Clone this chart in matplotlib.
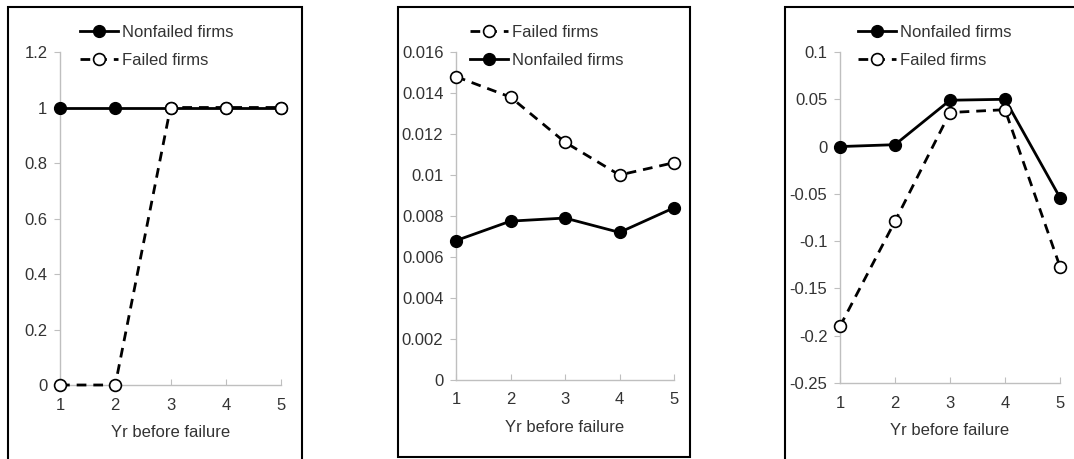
import matplotlib.pyplot as plt
from matplotlib.patches import Rectangle

plt.rcParams["font.family"] = ["Liberation Sans", "DejaVu Sans"]

years = [1, 2, 3, 4, 5]

# panel 1
p1_nonfailed = [1, 1, 1, 1, 1]
p1_failed = [0, 0, 1, 1, 1]
p1_yticks = [0, 0.2, 0.4, 0.6, 0.8, 1, 1.2]
p1_ylabels = ["0", "0.2", "0.4", "0.6", "0.8", "1", "1.2"]

# panel 2
p2_failed = [0.0148, 0.0138, 0.0116, 0.0100, 0.0106]
p2_nonfailed = [0.0068, 0.00775, 0.0079, 0.0072, 0.0084]
p2_yticks = [0, 0.002, 0.004, 0.006, 0.008, 0.01, 0.012, 0.014, 0.016]
p2_ylabels = ["0", "0.002", "0.004", "0.006", "0.008", "0.01", "0.012", "0.014", "0.016"]

# panel 3
p3_nonfailed = [0.0, 0.002, 0.049, 0.050, -0.054]
p3_failed = [-0.190, -0.079, 0.036, 0.039, -0.127]
p3_yticks = [-0.25, -0.2, -0.15, -0.1, -0.05, 0, 0.05, 0.1]
p3_ylabels = ["-0.25", "-0.2", "-0.15", "-0.1", "-0.05", "0", "0.05", "0.1"]

W, H = 1074, 459
TEXT = "#333333"
AXIS = "#BFBFBF"


def fx(px):
    return px / W


def fy(py):
    return 1 - py / H


def style_axis(ax, yticks, ylabels):
    ax.set_xlim(1, 5)
    ax.set_ylim(yticks[0], yticks[-1])
    ax.set_xticks(years)
    ax.set_yticks(yticks)
    ax.set_yticklabels(ylabels)
    for s in ["top", "right"]:
        ax.spines[s].set_visible(False)
    for s in ["left", "bottom"]:
        ax.spines[s].set_color(AXIS)
        ax.spines[s].set_linewidth(1.0)
    ax.tick_params(axis="x", direction="in", length=4, color=AXIS,
                   labelsize=12, labelcolor=TEXT, pad=9)
    ax.tick_params(axis="y", direction="out", length=4, color=AXIS,
                   labelsize=12, labelcolor=TEXT, pad=5)
    ax.set_xlabel("Yr before failure", fontsize=12, color=TEXT, labelpad=9)
    ax.patch.set_alpha(0)


def draw_nonfailed(ax, vals):
    ax.plot(years, vals, color="black", lw=2, marker="o", ms=8.5,
            mfc="black", mec="black", label="Nonfailed firms", clip_on=False, zorder=3)


def draw_failed(ax, vals):
    ax.plot(years, vals, color="black", lw=2, ls=(0, (3.5, 2.5)), marker="o", ms=8.5,
            mfc="white", mec="black", mew=1.2, label="Failed firms", clip_on=False, zorder=4)


def add_legend(ax, fig, x_px, order):
    handles, labels = ax.get_legend_handles_labels()
    idx = [labels.index(o) for o in order]
    ax.legend([handles[i] for i in idx], [labels[i] for i in idx],
              loc="upper left", bbox_to_anchor=(fx(x_px), fy(25)),
              bbox_transform=fig.transFigure, frameon=False, fontsize=12,
              handlelength=2.3, handletextpad=0.2, labelspacing=0.8,
              borderpad=0, borderaxespad=0, labelcolor=TEXT)


fig = plt.figure(figsize=(W / 100, H / 100), dpi=100)

# frames around each chart
for x0, x1, y0, y1 in [(8, 302, 7, 470), (398, 690, 7, 457), (785, 1090, 7, 470)]:
    fig.patches.append(Rectangle((fx(x0), fy(y1)), fx(x1 - x0), (y1 - y0) / H,
                                 transform=fig.transFigure, fill=False,
                                 edgecolor="black", lw=1.5))

ax1 = fig.add_axes([fx(60), fy(385), fx(281 - 60), (385 - 52) / H])
draw_nonfailed(ax1, p1_nonfailed)
draw_failed(ax1, p1_failed)
style_axis(ax1, p1_yticks, p1_ylabels)
add_legend(ax1, fig, 80, ["Nonfailed firms", "Failed firms"])

ax2 = fig.add_axes([fx(456), fy(380), fx(674 - 456), (380 - 52) / H])
draw_nonfailed(ax2, p2_nonfailed)
draw_failed(ax2, p2_failed)
style_axis(ax2, p2_yticks, p2_ylabels)
add_legend(ax2, fig, 470, ["Failed firms", "Nonfailed firms"])

ax3 = fig.add_axes([fx(840), fy(383), fx(1060 - 840), (383 - 52) / H])
draw_failed(ax3, p3_failed)
draw_nonfailed(ax3, p3_nonfailed)
style_axis(ax3, p3_yticks, p3_ylabels)
add_legend(ax3, fig, 858, ["Nonfailed firms", "Failed firms"])

fig.savefig("out.png", dpi=100)
